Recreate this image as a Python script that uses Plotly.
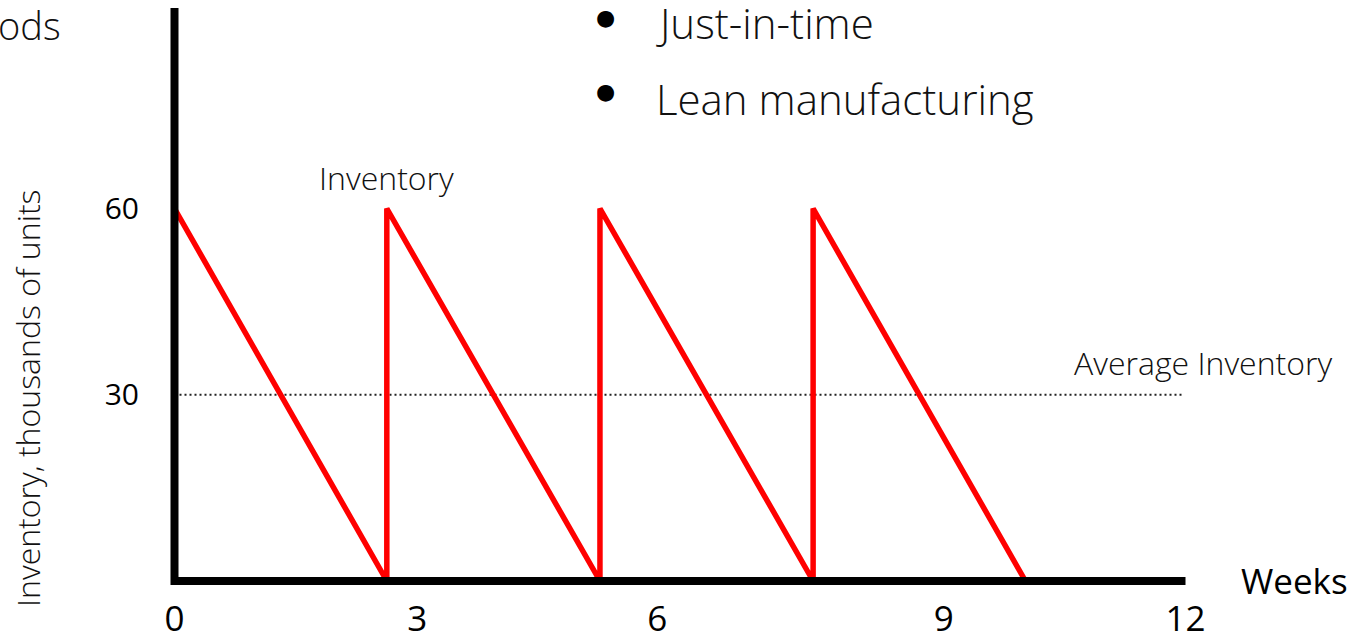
import plotly.graph_objects as go

# ---- data ----
weeks = [0, 2.52, 2.52, 5.05, 5.05, 7.58, 7.58, 10.1]
inventory = [60, 0, 60, 0, 60, 0, 60, 0]
avg_weeks = [0, 11.98]
avg_inventory = [30, 30]
x_tick_vals = [0, 2.88, 5.73, 9.13, 12]
x_tick_text = ["0", "3", "6", "9", "12"]
y_tick_vals = [30, 60]
y_tick_text = ["30", "60"]
bullets = ["Just-in-time", "Lean manufacturing"]

# ---- layout geometry ----
W, H = 1359, 636
L, R, T, B = 150, 1200, 0, 594          # plot area in pixels
x0_px, sx = 174.5, 1011 / 12           # week 0 pixel and px per week
y0_px, sy = 581, 372.5 / 60            # inventory 0 pixel and px per unit
x_range = [(L - x0_px) / sx, (R - x0_px) / sx]
y_range = [(y0_px - B) / sy, (y0_px - T) / sy]
y_axis_top = (y0_px - 8) / sy


def px(xp):
    return (xp - L) / (R - L)


def py(yp):
    return (B - yp) / (B - T)


FONT = "Open Sans"
TXT = "#111111"

fig = go.Figure()
fig.add_trace(go.Scatter(x=avg_weeks, y=avg_inventory, mode="lines",
                         line=dict(color="#222222", width=2, dash="2px,3px"),
                         hoverinfo="skip", showlegend=False))
fig.add_trace(go.Scatter(x=weeks, y=inventory, mode="lines",
                         line=dict(color="#ff0000", width=5.5),
                         showlegend=False))

# axis lines (thick L shape)
fig.add_shape(type="path", xref="x", yref="y",
              path=f"M 0,{y_axis_top} L 0,0 L 12,0",
              line=dict(color="black", width=8), layer="above")

ann = []
ann.append(dict(text="ods", x=px(63), y=py(25), xanchor="right", yanchor="middle",
                font=dict(family=FONT, size=38, color=TXT, weight=300)))
for i, b in enumerate(bullets):
    ann.append(dict(text="●", x=px(605), y=py([17, 91][i]), xanchor="center", yanchor="middle",
                    font=dict(family="DejaVu Sans", size=22, color="black")))
    ann.append(dict(text=b, x=px(654), y=py([22, 99][i]), xanchor="left", yanchor="middle",
                    font=dict(family=FONT, size=42, color=TXT, weight=300)))
ann.append(dict(text="Inventory", x=px(317), y=py(177), xanchor="left", yanchor="middle",
                font=dict(family=FONT, size=32, color=TXT, weight=300)))
ann.append(dict(text="Average Inventory", x=px(1072), y=py(362), xanchor="left", yanchor="middle",
                font=dict(family=FONT, size=32, color=TXT, weight=300)))
ann.append(dict(text="Weeks", x=px(1239), y=py(580), xanchor="left", yanchor="middle",
                font=dict(family=FONT, size=35, color="black")))
ann.append(dict(text="Inventory, thousands of units", x=px(28), y=py(398), textangle=-90,
                xanchor="center", yanchor="middle",
                font=dict(family=FONT, size=32, color=TXT, weight=300)))
for a in ann:
    a.update(xref="paper", yref="paper", showarrow=False)

fig.update_layout(
    width=W, height=H,
    margin=dict(l=L, r=W - R, t=T, b=H - B, pad=0, autoexpand=False),
    paper_bgcolor="white", plot_bgcolor="white",
    annotations=ann,
    xaxis=dict(range=x_range, showgrid=False, zeroline=False, showline=False,
               automargin=False,
               tickmode="array", tickvals=x_tick_vals, ticktext=x_tick_text,
               ticks="", ticklabelstandoff=1,
               tickfont=dict(family=FONT, size=35, color="black")),
    yaxis=dict(range=y_range, showgrid=False, zeroline=False, showline=False,
               automargin=False,
               tickmode="array", tickvals=y_tick_vals, ticktext=y_tick_text,
               ticks="", ticklabelstandoff=10,
               tickfont=dict(family=FONT, size=30, color="black")),
)

fig.write_html(
    "out.html",
    config={"displayModeBar": False},
    post_script=(
        "document.documentElement.style.overflow='hidden';"
        "document.body.style.margin='0';"
        "document.body.style.overflow='hidden';"
    ),
)
